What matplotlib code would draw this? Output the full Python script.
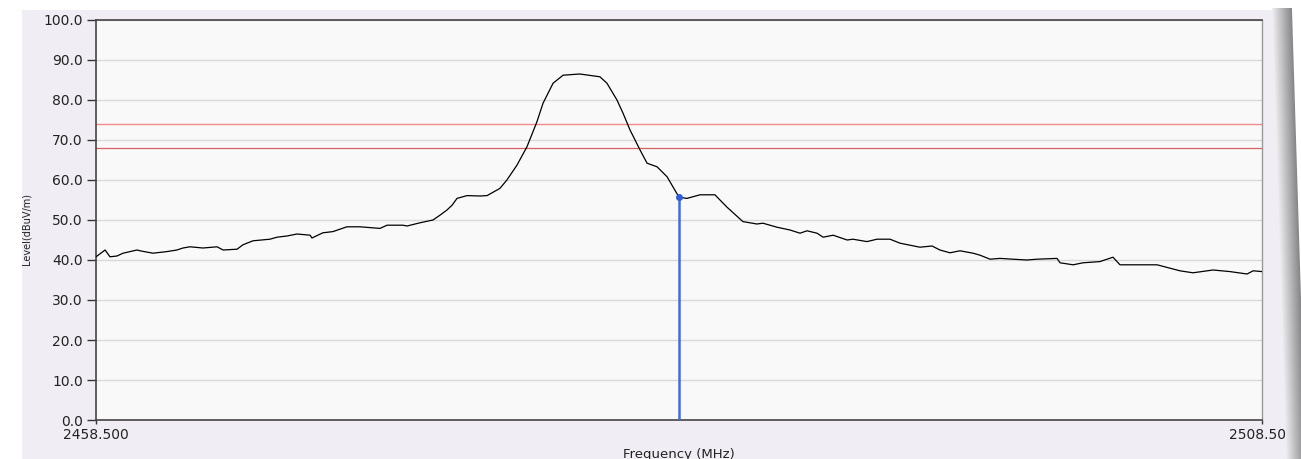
import numpy as np
import matplotlib
matplotlib.use("Agg")
import matplotlib.pyplot as plt
from matplotlib.patches import Rectangle

# Trace (MHz, dBuV/m)
freq = [2458.50, 2458.89, 2459.10, 2459.40, 2459.66, 2460.26, 2460.39, 2460.94,
        2461.54, 2461.97, 2462.23, 2462.53, 2463.09, 2463.69, 2463.95, 2464.55,
        2464.80, 2465.23, 2465.96, 2466.26, 2466.69, 2467.12, 2467.68, 2467.76,
        2468.23, 2468.66, 2469.26, 2469.82, 2470.68, 2470.98, 2471.66, 2471.84,
        2472.39, 2472.95, 2473.25, 2473.55, 2473.77, 2473.98, 2474.41, 2474.97,
        2475.27, 2475.82, 2476.12, 2476.55, 2476.98, 2477.24, 2477.41, 2477.67,
        2478.10, 2478.53, 2479.25, 2480.11, 2480.41, 2480.84, 2481.10, 2481.40,
        2481.83, 2482.13, 2482.56, 2482.99, 2483.24, 2483.50, 2483.84, 2484.40,
        2485.04, 2485.56, 2486.24, 2486.84, 2487.10, 2487.70, 2488.26, 2488.69,
        2488.99, 2489.42, 2489.68, 2490.11, 2490.71, 2490.96, 2491.56, 2491.99,
        2492.55, 2492.98, 2493.83, 2494.35, 2494.69, 2495.12, 2495.55, 2496.11,
        2496.41, 2496.84, 2497.26, 2497.82, 2498.42, 2498.85, 2499.71, 2499.84,
        2500.40, 2500.82, 2501.55, 2502.11, 2502.41, 2503.14, 2504.00, 2504.98,
        2505.54, 2506.40, 2507.13, 2507.86, 2508.12, 2508.50]
level = [40.8, 42.5, 40.8, 41.0, 41.7, 42.5, 42.3, 41.7,
         42.1, 42.5, 43.0, 43.3, 43.0, 43.3, 42.5, 42.7,
         43.8, 44.8, 45.2, 45.7, 46.0, 46.5, 46.2, 45.5,
         46.8, 47.1, 48.3, 48.3, 47.9, 48.7, 48.7, 48.5,
         49.3, 50.0, 51.2, 52.5, 53.7, 55.4, 56.1, 56.0,
         56.1, 57.9, 60.0, 63.7, 68.3, 72.1, 74.6, 79.2,
         84.2, 86.2, 86.5, 85.8, 84.2, 80.0, 76.7, 72.5,
         67.5, 64.2, 63.3, 60.8, 58.3, 55.7, 55.4, 56.3,
         56.3, 53.2, 49.6, 49.0, 49.2, 48.2, 47.5, 46.7,
         47.3, 46.7, 45.7, 46.2, 45.0, 45.2, 44.6, 45.2,
         45.2, 44.2, 43.2, 43.5, 42.5, 41.8, 42.3, 41.7,
         41.2, 40.2, 40.4, 40.2, 40.0, 40.2, 40.4, 39.3,
         38.8, 39.3, 39.6, 40.7, 38.8, 38.8, 38.8, 37.3,
         36.8, 37.5, 37.1, 36.5, 37.3, 37.1]

limit_peak = 74.0
limit_avg = 68.0
marker_freq = 2483.5
marker_level = 55.7

W, H = 1301, 459
fig = plt.figure(figsize=(W / 100, H / 100), dpi=100)
fig.patch.set_facecolor("white")

# lavender panel behind the chart
fig.patches.append(Rectangle((22 / W, 0), 1270 / W, 449 / H,
                             transform=fig.transFigure, facecolor="#f0eef4",
                             edgecolor="none", zorder=-10))

ax = fig.add_axes([96 / W, 1 - 420 / H, 1166 / W, 400 / H])
ax.set_facecolor("#f9f9f9")

ax.plot(freq, level, color="black", linewidth=0.9, zorder=3)
ax.axhline(limit_peak, color="#f08a8a", linewidth=1.0, zorder=2)
ax.axhline(limit_avg, color="#d86060", linewidth=0.9, zorder=2)
ax.plot([marker_freq, marker_freq], [0, marker_level], color="#3b6fe0",
        linewidth=1.8, zorder=4)
ax.plot([marker_freq], [marker_level], "o", color="#2f5fd8", markersize=4, zorder=5)

ax.set_xlim(2458.5, 2508.5)
ax.set_ylim(0, 100)
ax.set_yticks(np.arange(0, 101, 10))
ax.set_yticklabels([f"{v:.1f}" for v in np.arange(0, 101, 10)])
ax.set_xticks([2458.5, 2508.5])
ax.set_xticklabels(["2458.500", "2508.500"])
ax.grid(axis="y", color="#d9d9d9", linewidth=1.0, zorder=1)
ax.set_axisbelow(True)

ax.tick_params(axis="y", direction="out", length=6.5, width=1, color="#333333",
               labelsize=10, labelcolor="#222222", pad=3)
ax.tick_params(axis="x", direction="out", length=3, width=1, color="#333333",
               labelsize=10, labelcolor="#222222", pad=3)

for side in ["left", "bottom", "top"]:
    ax.spines[side].set_color("#444444")
    ax.spines[side].set_linewidth(1.2)
ax.spines["right"].set_color("#999999")
ax.spines["right"].set_linewidth(1.0)

ax.set_xlabel("Frequency (MHz)", fontsize=9.5, color="#222222", labelpad=4)
fig.text(27 / W, 1 - 229 / H, "Level(dBuV/m)", rotation=90, fontsize=7,
         color="#222222", ha="center", va="center")

# slanted grey gradient strip on the right edge (screenshot scroll shadow)
gax = fig.add_axes([0, 0, 1, 1])
gax.set_xlim(0, W)
gax.set_ylim(H, 0)
gax.set_axis_off()
gax.set_zorder(10)
xs = np.arange(1265, W) + 0.5
ys = np.arange(8, H) + 0.5
X, Y = np.meshgrid(xs, ys)
x0 = 1272 + (Y - 10) / (H - 10) * 14
t = (X - x0) / 20.0
img = np.zeros(X.shape + (4,))
shade = 0.94 - 0.42 * np.clip(t, 0, 1)
img[..., 0] = shade
img[..., 1] = shade
img[..., 2] = shade + 0.01
img[..., 3] = np.clip(X - x0 + 0.5, 0, 1) * np.clip(x0 + 20 - X + 0.5, 0, 1)
gax.imshow(img, extent=(1265, W, H, 8), interpolation="nearest", aspect="auto")

plt.savefig("out.png", dpi=100)
